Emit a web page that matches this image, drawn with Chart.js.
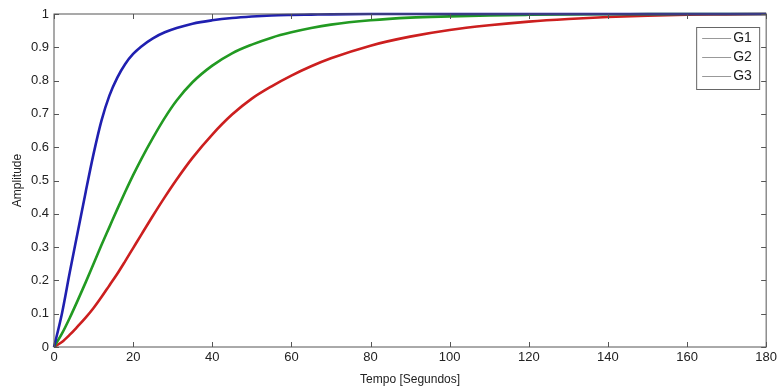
<!DOCTYPE html>
<html>
<head>
<meta charset="utf-8">
<script src="https://cdn.jsdelivr.net/npm/chart.js@4.4.1/dist/chart.umd.min.js"></script>
<style>
  html, body { margin: 0; padding: 0; background: #fff; }
  #wrap { width: 780px; height: 387px; }
</style>
</head>
<body>
<div id="wrap"><canvas id="grafica"></canvas></div>
<script>
// tempo [s] e amplitudes
const tempos = [0, 2, 4, 6, 8, 10, 12, 14, 16, 18, 20, 22, 25, 28, 31, 35, 40, 45, 50, 55, 60, 65, 70, 80, 90, 100, 110, 120, 130, 140, 150, 160, 170, 180];
const g1 = [0, 0.10, 0.225, 0.345, 0.465, 0.58, 0.68, 0.755, 0.809, 0.85, 0.88, 0.902, 0.927, 0.945, 0.958, 0.971, 0.981, 0.988, 0.9925, 0.9955, 0.997, 0.998, 0.999, 1, 1, 1, 1, 1, 1, 1, 1, 1, 1, 1];
const g2 = [0, 0.04, 0.088, 0.14, 0.194, 0.25, 0.306, 0.36, 0.414, 0.466, 0.516, 0.563, 0.628, 0.688, 0.74, 0.795, 0.845, 0.882, 0.908, 0.929, 0.945, 0.958, 0.968, 0.981, 0.989, 0.993, 0.996, 0.9976, 0.9986, 0.9992, 0.9995, 1, 1, 1];
const g3 = [0, 0.015, 0.037, 0.062, 0.088, 0.117, 0.15, 0.185, 0.22, 0.258, 0.297, 0.336, 0.394, 0.45, 0.503, 0.568, 0.638, 0.698, 0.746, 0.783, 0.815, 0.843, 0.867, 0.905, 0.932, 0.952, 0.966, 0.977, 0.985, 0.991, 0.995, 0.998, 0.999, 1];
const nomes = ['G1', 'G2', 'G3'];
const cores = ['#2020b0', '#229a22', '#cc1f1f'];
const xTicks = [0, 20, 40, 60, 80, 100, 120, 140, 160, 180];
const yTicks = [0, 0.1, 0.2, 0.3, 0.4, 0.5, 0.6, 0.7, 0.8, 0.9, 1];

const fonte = 'Liberation Sans, Arial, sans-serif';

function pontos(ys) {
    return tempos.map((t, i) => ({ x: t, y: ys[i] }));
}

// caixa, ticks para dentro e legenda estilo matlab
const caixaMatlab = {
    id: 'caixaMatlab',
    afterDatasetsDraw(chart) {
        const { ctx, chartArea: a, scales } = chart;
        ctx.save();
        ctx.strokeStyle = '#555';
        ctx.lineWidth = 1;
        ctx.strokeRect(a.left, a.top, a.right - a.left, a.bottom - a.top);
        ctx.beginPath();
        xTicks.forEach(v => {
            const px = Math.round(scales.x.getPixelForValue(v)) + 0.5;
            ctx.moveTo(px, a.bottom); ctx.lineTo(px, a.bottom - 5);
            ctx.moveTo(px, a.top); ctx.lineTo(px, a.top + 5);
        });
        yTicks.forEach(v => {
            const py = Math.round(scales.y.getPixelForValue(v)) + 0.5;
            ctx.moveTo(a.left, py); ctx.lineTo(a.left + 5, py);
            ctx.moveTo(a.right, py); ctx.lineTo(a.right - 5, py);
        });
        ctx.stroke();

        // legenda
        const bx = a.right - 70, by = a.top + 13, bw = 63, bh = 62;
        ctx.fillStyle = '#fff';
        ctx.fillRect(bx, by, bw, bh);
        ctx.strokeStyle = '#666';
        ctx.strokeRect(bx + 0.5, by + 0.5, bw, bh);
        ctx.font = '14px ' + fonte;
        ctx.textBaseline = 'middle';
        nomes.forEach((n, i) => {
            const y = by + 11 + i * 19;
            ctx.strokeStyle = '#999';
            ctx.beginPath();
            ctx.moveTo(bx + 6, y + 0.5); ctx.lineTo(bx + 35, y + 0.5);
            ctx.stroke();
            ctx.fillStyle = '#222';
            ctx.fillText(n, bx + 37, y);
        });
        ctx.restore();
    }
};

new Chart(document.getElementById('grafica'), {
    type: 'line',
    data: {
        datasets: [g1, g2, g3].map((ys, i) => ({
            label: nomes[i],
            data: pontos(ys),
            borderColor: cores[i],
            borderWidth: 2.6,
            pointRadius: 0,
            cubicInterpolationMode: 'monotone',
            clip: 4
        }))
    },
    options: {
        responsive: true,
        maintainAspectRatio: false,
        animation: false,
        layout: { padding: { top: 14, right: 12, left: 10, bottom: 0 } },
        plugins: { legend: { display: false }, tooltip: { enabled: false } },
        scales: {
            x: {
                type: 'linear',
                min: 0,
                max: 180,
                afterBuildTicks: s => { s.ticks = xTicks.map(v => ({ value: v })); },
                afterFit: s => { s.height = 40; },
                grid: { display: false, drawTicks: false },
                border: { display: false },
                ticks: { color: '#222', padding: 3, font: { family: fonte, size: 13 }, maxRotation: 0 },
                title: { display: true, text: 'Tempo [Segundos]', color: '#222', padding: { top: 0, bottom: 0 }, font: { family: fonte, size: 12 } }
            },
            y: {
                min: 0,
                max: 1,
                afterBuildTicks: s => { s.ticks = yTicks.map(v => ({ value: v })); },
                afterFit: s => { s.width = 44; },
                grid: { display: false, drawTicks: false },
                border: { display: false },
                ticks: { color: '#222', padding: 5, font: { family: fonte, size: 13 }, callback: v => String(Math.round(v * 10) / 10) },
                title: { display: true, text: 'Amplitude', color: '#222', padding: { top: 0, bottom: 0 }, font: { family: fonte, size: 12 } }
            }
        }
    },
    plugins: [caixaMatlab]
});
</script>
</body>
</html>
